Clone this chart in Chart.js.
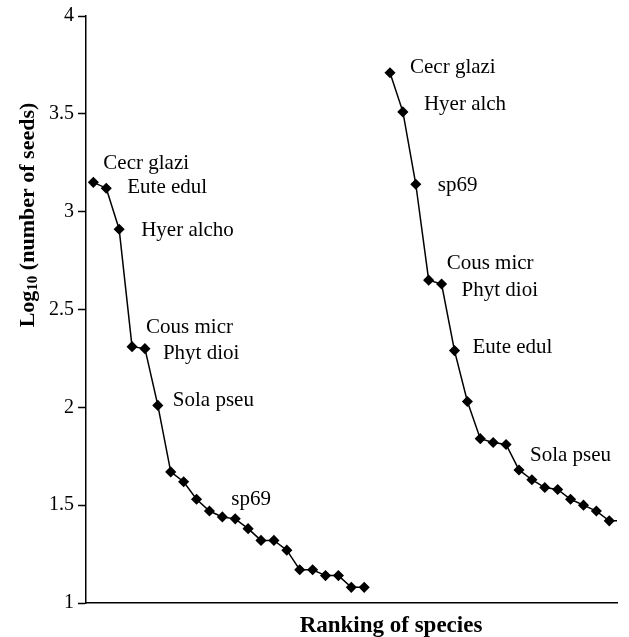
<!DOCTYPE html>
<html lang="en">
<head>
    <meta charset="UTF-8">
    <title>Ranking of species</title>
    <script src="https://cdn.jsdelivr.net/npm/chart.js"></script>
    <style>
        html, body { margin: 0; padding: 0; background: #fff; }
        #wrap { width: 629px; height: 637px; position: relative; }
    </style>
</head>
<body>
    <div id="wrap">
        <canvas id="seedChart"></canvas>
    </div>

    <script>
        // Curva izquierda
        var leftRanks = [1, 2, 3, 4, 5, 6, 7, 8, 9, 10, 11, 12, 13, 14, 15, 16, 17, 18, 19, 20, 21, 22];
        var leftValues = [3.15, 3.12, 2.91, 2.31, 2.30, 2.01, 1.67, 1.62, 1.53, 1.47, 1.44, 1.43,
                          1.38, 1.32, 1.32, 1.27, 1.17, 1.17, 1.14, 1.14, 1.08, 1.08];

        // Curva derecha
        var rightRanks = [24, 25, 26, 27, 28, 29, 30, 31, 32, 33, 34, 35, 36, 37, 38, 39, 40, 41, 42];
        var rightValues = [3.71, 3.51, 3.14, 2.65, 2.63, 2.29, 2.03, 1.84, 1.82, 1.81, 1.68, 1.63,
                           1.59, 1.58, 1.53, 1.50, 1.47, 1.42, 1.42];

        // Etiquetas de especies (indice del punto en cada serie)
        var leftLabels = ['Cecr glazi', 'Eute edul', 'Hyer alcho', 'Cous micr', 'Phyt dioi', 'Sola pseu', 'sp69'];
        var leftLabelPoints = [0, 1, 2, 3, 4, 5, 11];
        var rightLabels = ['Cecr glazi', 'Hyer alch', 'sp69', 'Cous micr', 'Phyt dioi', 'Eute edul', 'Sola pseu'];
        var rightLabelPoints = [0, 1, 2, 3, 4, 5, 10];

        var yTicks = [1, 1.5, 2, 2.5, 3, 3.5, 4];

        var serif = "'Liberation Serif', 'Times New Roman', serif";

        function toXY(xs, ys) {
            return xs.map(function (x, i) { return { x: x, y: ys[i] }; });
        }

        // desplazamientos de cada etiqueta respecto a su punto (px)
        var leftOffsets = [[10, -19], [21, -1], [22, 1], [14, -19], [18, 5], [15, -5], [-4, -19]];
        var rightOffsets = [[20, -5], [21, -7], [22, 1], [18, -17], [20, 6], [18, -3], [11, -14]];

        var labelPlugin = {
            id: 'speciesLabels',
            afterDatasetsDraw: function (chart) {
                var ctx = chart.ctx;
                ctx.save();
                ctx.fillStyle = '#000';
                ctx.font = '21px ' + serif;
                ctx.textAlign = 'left';
                ctx.textBaseline = 'middle';
                var sets = [[0, leftLabels, leftLabelPoints, leftOffsets], [1, rightLabels, rightLabelPoints, rightOffsets]];
                sets.forEach(function (s) {
                    var meta = chart.getDatasetMeta(s[0]);
                    s[1].forEach(function (txt, i) {
                        var pt = meta.data[s[2][i]];
                        ctx.fillText(txt, pt.x + s[3][i][0], pt.y + s[3][i][1]);
                    });
                });
                ctx.restore();
            }
        };

        var titlePlugin = {
            id: 'axisTitles',
            afterDraw: function (chart) {
                var ctx = chart.ctx;
                ctx.save();
                ctx.fillStyle = '#000';
                // titulo eje x
                ctx.font = 'bold 23px ' + serif;
                ctx.textAlign = 'center';
                ctx.textBaseline = 'middle';
                ctx.fillText('Ranking of species', 391, 626);

                // titulo eje y con subindice
                ctx.translate(28, 215);
                ctx.rotate(-Math.PI / 2);
                var big = 'bold 22px ' + serif;
                var small = 'bold 15px ' + serif;
                var p1 = 'Log', p2 = '10', p3 = ' (number of seeds)';
                ctx.font = big;
                var w1 = ctx.measureText(p1).width;
                var w3 = ctx.measureText(p3).width;
                ctx.font = small;
                var w2 = ctx.measureText(p2).width;
                var x = -(w1 + w2 + w3) / 2;
                ctx.textAlign = 'left';
                ctx.font = big;
                ctx.fillText(p1, x, 0);
                ctx.font = small;
                ctx.fillText(p2, x + w1, 5);
                ctx.font = big;
                ctx.fillText(p3, x + w1 + w2, 0);
                ctx.restore();
            }
        };

        var ctx = document.getElementById('seedChart').getContext('2d');
        var seedChart = new Chart(ctx, {
            type: 'line',
            data: {
                datasets: [{
                    data: toXY(leftRanks, leftValues),
                    borderColor: '#000',
                    backgroundColor: '#000',
                    borderWidth: 1.5,
                    pointStyle: 'rectRot',
                    pointRadius: 4.5,
                    pointHoverRadius: 4.5,
                    tension: 0,
                    clip: 0
                }, {
                    data: toXY(rightRanks, rightValues),
                    borderColor: '#000',
                    backgroundColor: '#000',
                    borderWidth: 1.5,
                    pointStyle: 'rectRot',
                    pointRadius: 4.5,
                    pointHoverRadius: 4.5,
                    tension: 0,
                    clip: 0
                }]
            },
            options: {
                responsive: true,
                maintainAspectRatio: false,
                animation: false,
                events: [],
                layout: { padding: { top: 15, right: 12, left: 0, bottom: 0 } },
                plugins: {
                    legend: { display: false },
                    tooltip: { enabled: false }
                },
                scales: {
                    x: {
                        type: 'linear',
                        min: 0.43,
                        max: 41.6,
                        ticks: { display: false },
                        grid: { display: false },
                        border: { display: true, color: '#000', width: 1.5 },
                        afterFit: function (scale) { scale.height = 34; }
                    },
                    y: {
                        min: 1,
                        max: 4,
                        afterBuildTicks: function (scale) {
                            scale.ticks = yTicks.map(function (v) { return { value: v }; });
                        },
                        ticks: {
                            color: '#000',
                            padding: 4,
                            font: { family: serif, size: 20 },
                            callback: function (v) { return String(v); }
                        },
                        grid: {
                            display: true,
                            drawOnChartArea: false,
                            drawTicks: true,
                            tickLength: 8,
                            tickWidth: 1.5,
                            tickColor: '#000'
                        },
                        border: { display: true, color: '#000', width: 1.5 },
                        afterFit: function (scale) { scale.width = 86; }
                    }
                }
            },
            plugins: [labelPlugin, titlePlugin]
        });
    </script>
</body>
</html>
